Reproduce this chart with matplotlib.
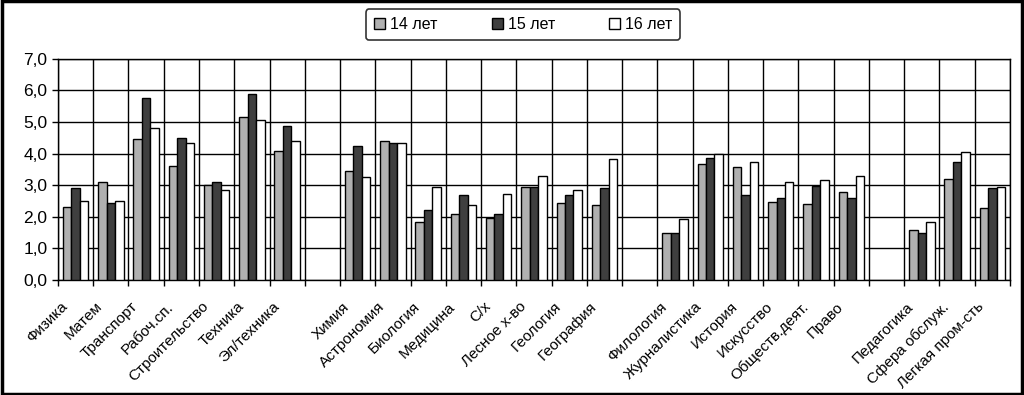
import numpy as np
import matplotlib
matplotlib.use("Agg")
import matplotlib.pyplot as plt
import matplotlib.transforms as mtransforms
from matplotlib.patches import Rectangle

plt.rcParams['font.family'] = ['Liberation Sans', 'DejaVu Sans']

# Categories (empty strings are the gaps between groups)
categories = ['Физика', 'Матем', 'Транспорт', 'Рабоч.сп.', 'Строительство', 'Техника', 'Эл/техника',
              '',
              'Химия', 'Астрономия', 'Биология', 'Медицина', 'С/х', 'Лесное х-во', 'Геология', 'География',
              '',
              'Филология', 'Журналистика', 'История', 'Искусство', 'Обществ.деят.', 'Право',
              '',
              'Педагогика', 'Сфера обслуж.', 'Легкая пром-сть']

nan = np.nan
age14 = [2.3, 3.1, 4.45, 3.62, 3.0, 5.15, 4.08,
         nan,
         3.45, 4.4, 1.83, 2.08, 1.96, 2.95, 2.45, 2.38,
         nan,
         1.48, 3.67, 3.58, 2.48, 2.41, 2.8,
         nan,
         1.57, 3.19, 2.28]
age15 = [2.9, 2.43, 5.75, 4.48, 3.1, 5.88, 4.86,
         nan,
         4.23, 4.35, 2.23, 2.68, 2.08, 2.95, 2.68, 2.9,
         nan,
         1.48, 3.85, 2.68, 2.6, 2.97, 2.6,
         nan,
         1.5, 3.75, 2.9]
age16 = [2.5, 2.5, 4.8, 4.35, 2.84, 5.05, 4.4,
         nan,
         3.25, 4.35, 2.95, 2.38, 2.72, 3.28, 2.85, 3.84,
         nan,
         1.93, 3.98, 3.75, 3.1, 3.18, 3.28,
         nan,
         1.83, 4.05, 2.96]
series_names = ['14 лет', '15 лет', '16 лет']
colors = ['#b0b0b0', '#3f3f3f', '#ffffff']

fig = plt.figure(figsize=(10.24, 3.95), dpi=100)
ax = fig.add_axes([0.0566, 0.291, 0.9297, 0.56])

x = np.arange(len(categories))
w = 0.24
for i, (vals, name, col) in enumerate(zip([age14, age15, age16], series_names, colors)):
    ax.bar(x + (i - 1) * w, vals, width=w, color=col, edgecolor='black',
           linewidth=1.0, label=name, zorder=3)

ax.set_xlim(-0.5, len(categories) - 0.5)
ax.set_ylim(0, 7)
ax.set_yticks(np.arange(0, 8, 1))
ax.set_yticklabels([f'{v:.1f}'.replace('.', ',') for v in range(8)], fontsize=12.5)

# vertical grid at category boundaries, labels at centres
ax.set_xticks(np.arange(-0.5, len(categories), 1))
ax.set_xticklabels([])
ax.set_xticks(x, minor=True)
ax.set_xticklabels(categories, minor=True, rotation=45, ha='right',
                   rotation_mode='anchor', fontsize=11)
ax.tick_params(axis='x', which='minor', length=0, pad=14)
ax.tick_params(axis='x', which='major', length=4, width=1)
ax.tick_params(axis='y', length=4, width=1)
shift = mtransforms.ScaledTranslation(-11 / 72, 0, fig.dpi_scale_trans)
for lbl in ax.get_xticklabels(minor=True):
    lbl.set_transform(lbl.get_transform() + shift)

ax.grid(True, which='major', color='black', linewidth=1.0, zorder=0)
ax.set_axisbelow(True)
for s in ax.spines.values():
    s.set_linewidth(1.0)

leg = fig.legend(loc='center', bbox_to_anchor=(0.511, 0.937), ncol=3, fontsize=11.5,
                 frameon=True, fancybox=True, edgecolor='black', handlelength=0.7,
                 handleheight=0.7, columnspacing=3.4, handletextpad=0.3,
                 borderpad=0.5)
leg.get_frame().set_linewidth(1.2)

# outer frame
fig.patches.append(Rectangle((0.002, 0.003), 0.996, 0.994, transform=fig.transFigure,
                             fill=False, edgecolor='black', linewidth=2.5))

fig.savefig('out.png', dpi=100)
